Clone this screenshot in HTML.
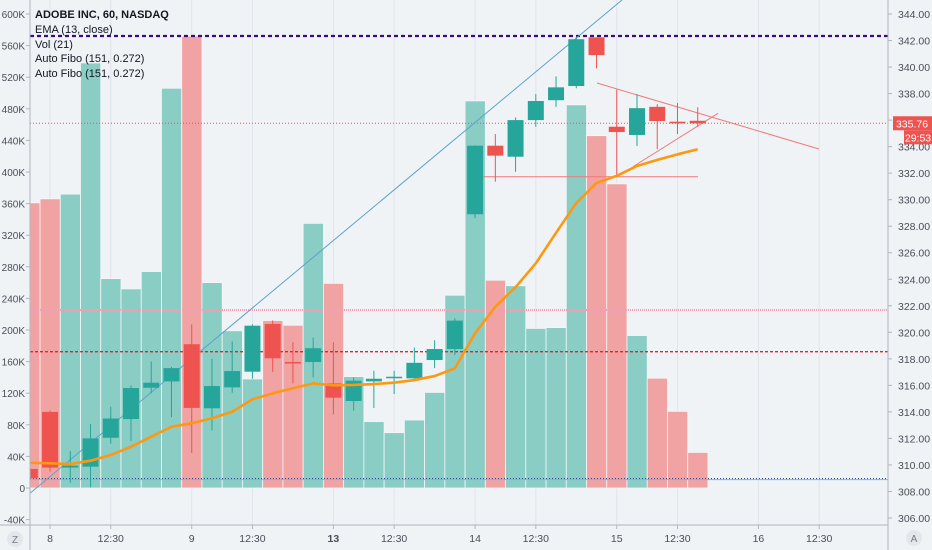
<!DOCTYPE html>
<html><head><meta charset="utf-8"><style>
html,body{margin:0;padding:0;background:#eff3f6;}
svg{display:block;font-family:"Liberation Sans",sans-serif;}
</style></head><body>
<svg id="chart" width="932" height="550" viewBox="0 0 932 550">
<rect x="0" y="0" width="932" height="550" fill="#eff3f6"/>
<g id="grid"></g>
<g id="vol"></g>
<g id="lines"></g>
<g id="candles"></g>
<g id="ema"></g>
<g id="axes"></g>
<g font-size="11" fill="#131722">
<text x="35" y="18" font-weight="bold">ADOBE INC, 60, NASDAQ</text>
<text x="35" y="33">EMA (13, close)</text>
<text x="35" y="48">Vol (21)</text>
<text x="35" y="62">Auto Fibo (151, 0.272)</text>
<text x="35" y="77">Auto Fibo (151, 0.272)</text>
</g>
</svg>
<script>
const opens  = [309.7,314.0,309.8,309.87,312.05,313.46,315.82,316.3,319.1,314.27,315.85,317.03,320.63,317.76,317.76,316.15,314.82,316.3,316.58,316.53,317.91,318.74,328.9,334.07,333.24,336.0,337.5,338.57,342.24,335.5,334.88,337.0,335.88,335.95];
const highs  = [309.8,314.1,311.05,313.1,314.4,316.0,317.8,317.4,320.6,318.0,319.3,320.6,320.9,319.25,319.6,319.25,316.6,317.1,317.1,318.85,319.4,321.06,334.1,334.95,336.2,337.97,339.3,342.3,342.24,338.3,337.95,337.2,337.3,336.97];
const lows   = [308.9,309.5,308.65,308.3,311.6,311.8,315.4,313.6,310.9,312.6,315.45,316.5,317.0,316.15,316.6,313.8,314.1,314.3,315.35,316.5,317.3,318.3,328.6,331.36,332.1,335.5,337.0,338.4,339.9,331.7,334.05,333.8,334.95,335.5];
const closes = [309.0,309.8,309.95,312.0,313.5,315.8,316.2,317.3,314.3,315.95,317.08,320.5,318.04,317.66,318.8,315.07,316.35,316.5,316.65,317.7,318.74,320.88,334.07,333.32,336.0,337.44,338.47,342.1,340.9,335.1,336.9,335.93,335.76,335.76];
const volumes = [361,366,372,538,265,252,274,506,572,260,199,138,212,206,335,259,141,84,70,86,121,244,490,263,256,202,203,485,446,385,193,139,97,45];
const emaVals = [310.17,310.12,310.07,310.32,310.75,311.37,312.13,312.88,313.14,313.52,314.01,314.95,315.4,315.78,316.15,316.0,316.03,316.1,316.2,316.4,316.7,317.28,319.93,321.93,323.4,325.2,327.5,329.75,331.26,331.8,332.54,333.0,333.42,333.8];
const priceTicks = [344,342,340,338,336,334,332,330,328,326,324,322,320,318,316,314,312,310,308,306];
const volTicks = [600,560,520,480,440,400,360,320,280,240,200,160,120,80,40,0,-40];
const timeLabels = ["8","12:30","9","12:30","13","12:30","14","12:30","15","12:30","16","12:30"];
const timeIdx = [1,4,8,11,15,18,22,25,29,32,36,39];
const hLevels = [342.34,321.68,318.54,308.97];

const NS="http://www.w3.org/2000/svg";
const PL=30, PR=888, PB=525;
const xi=i=>29.8+20.24*i;
const py=p=>14+(344-p)*13.263;
const vy=v=>488-v*0.79;
function mk(tag,attrs,parent){const e=document.createElementNS(NS,tag);for(const k in attrs)e.setAttribute(k,attrs[k]);parent.appendChild(e);return e;}
const G=id=>document.getElementById(id);

// grid
timeIdx.forEach((ti,k)=>{const l=mk('line',{x1:xi(ti),x2:xi(ti),y1:0,y2:PB,stroke:'#e0e5eb','stroke-width':1},G('grid'));

});

// clip
const defs=mk('defs',{},G('chart'));
const cp=mk('clipPath',{id:'plotclip'},defs);mk('rect',{x:PL,y:0,width:PR-PL,height:PB},cp);
['vol','candles','ema','lines'].forEach(id=>G(id).setAttribute('clip-path','url(#plotclip)'));

// volume
volumes.forEach((v,i)=>{const up=closes[i]>=opens[i];
const r=mk('rect',{x:xi(i)-10,y:vy(v),width:20.24,height:vy(0)-vy(v),fill:up?'#89cdc5':'#f1a3a3',stroke:'#f4f6f8','stroke-width':0.8},G('vol'));

});

// horizontal levels
const lvStyles=[{c:'#3d0a7a',w:2.2,d:'4 3'},{c:'#f0a0b4',w:2,d:'1 1'},{c:'#e8222a',w:1.4,d:'3 2'},{c:'#2d4a9a',w:1.3,d:'1 2'}];
hLevels.forEach((p,k)=>{const s=lvStyles[k];const l=mk('line',{x1:PL,x2:PR,y1:py(p),y2:py(p),stroke:s.c,'stroke-width':s.w,'stroke-dasharray':s.d},G('lines'));

});
mk('line',{x1:PL,x2:PR,y1:py(308.97)+1,y2:py(308.97)+1,stroke:'#7fb8d8','stroke-width':1},G('lines'));
const cur=mk('line',{x1:PL,x2:PR,y1:py(closes[closes.length-1]),y2:py(closes[closes.length-1]),stroke:'#ef5350','stroke-width':1,'stroke-dasharray':'1 2'},G('lines'));


// trend lines
const tl=[[30,493.3,622,0,'#5ba3c9'],[597,83,819,149,'#ef7a7a'],[633,166.7,718,113.3,'#ef7a7a'],[483,176.7,698,176.7,'#ef7a7a']];
tl.forEach(t=>{const l=mk('line',{x1:t[0],y1:t[1],x2:t[2],y2:t[3],stroke:t[4],'stroke-width':1},G('lines'));

});

// candles
opens.forEach((o,i)=>{const c=closes[i],up=c>=o,col=up?'#26a69a':'#ef5350',x=xi(i);
const g=mk('g',{},G('candles'));


mk('line',{x1:x,x2:x,y1:py(highs[i]),y2:py(lows[i]),stroke:col,'stroke-width':1},g);
const t=py(Math.max(o,c)),b=py(Math.min(o,c));
mk('rect',{x:x-8,y:t,width:16,height:Math.max(1.5,b-t),fill:col},g);});

// ema
const pts=emaVals.map((v,i)=>xi(i)+','+py(v)).join(' ');
const pl=mk('polyline',{points:pts,fill:'none',stroke:'#ff9811','stroke-width':2.6,'stroke-linejoin':'round'},G('ema'));



// axes
const A=G('axes');
mk('line',{x1:PL,x2:PL,y1:0,y2:550,stroke:'#b2b5be','stroke-width':1},A);
mk('line',{x1:PR,x2:PR,y1:0,y2:550,stroke:'#b2b5be','stroke-width':1},A);
mk('line',{x1:0,x2:PR,y1:PB,y2:PB,stroke:'#b2b5be','stroke-width':1},A);
priceTicks.forEach(p=>{mk('line',{x1:PR,x2:PR+4,y1:py(p),y2:py(p),stroke:'#b2b5be'},A);
const t=mk('text',{x:PR+10,y:py(p)+4,'font-size':10.5,fill:'#4a4e59'},A);t.textContent=p.toFixed(2);

});
volTicks.forEach(v=>{mk('line',{x1:PL-4,x2:PL,y1:vy(v),y2:vy(v),stroke:'#b2b5be'},A);
const t=mk('text',{x:PL-5,y:vy(v)+4,'font-size':10,fill:'#4a4e59','text-anchor':'end'},A);t.textContent=v===0?'0':v+'K';

});
timeLabels.forEach((s,k)=>{const x=xi(timeIdx[k]);mk('line',{x1:x,x2:x,y1:PB,y2:PB+4,stroke:'#b2b5be'},A);
const t=mk('text',{x:x,y:542,'font-size':10.5,fill:'#4a4e59','text-anchor':'middle','font-weight':s==='13'?'bold':'normal'},A);t.textContent=s;

});
// price label
const lp=mk('g',{},A);


const ly=py(closes[closes.length-1]);
mk('rect',{x:893,y:ly-7,width:39,height:14,fill:'#ef5350'},lp);
mk('rect',{x:904,y:ly+7,width:28,height:14,fill:'#ef5350'},lp);
let t=mk('text',{x:912,y:ly+4,'font-size':10.5,fill:'#fff','text-anchor':'middle'},lp);t.textContent=closes[closes.length-1].toFixed(2);
t=mk('text',{x:918,y:ly+18,'font-size':10.5,fill:'#fff','text-anchor':'middle'},lp);t.textContent='29:53';
// Z and A buttons
const z=mk('g',{},A);


mk('circle',{cx:15,cy:539,r:8,fill:'#e3e7ec'},z);
t=mk('text',{x:15,y:543,'font-size':10,fill:'#787b86','text-anchor':'middle'},z);t.textContent='Z';
const a=mk('g',{},A);


mk('circle',{cx:914,cy:538,r:8,fill:'#e3e7ec'},a);
t=mk('text',{x:914,y:542,'font-size':10,fill:'#787b86','text-anchor':'middle'},a);t.textContent='A';
</script>
</body></html>
